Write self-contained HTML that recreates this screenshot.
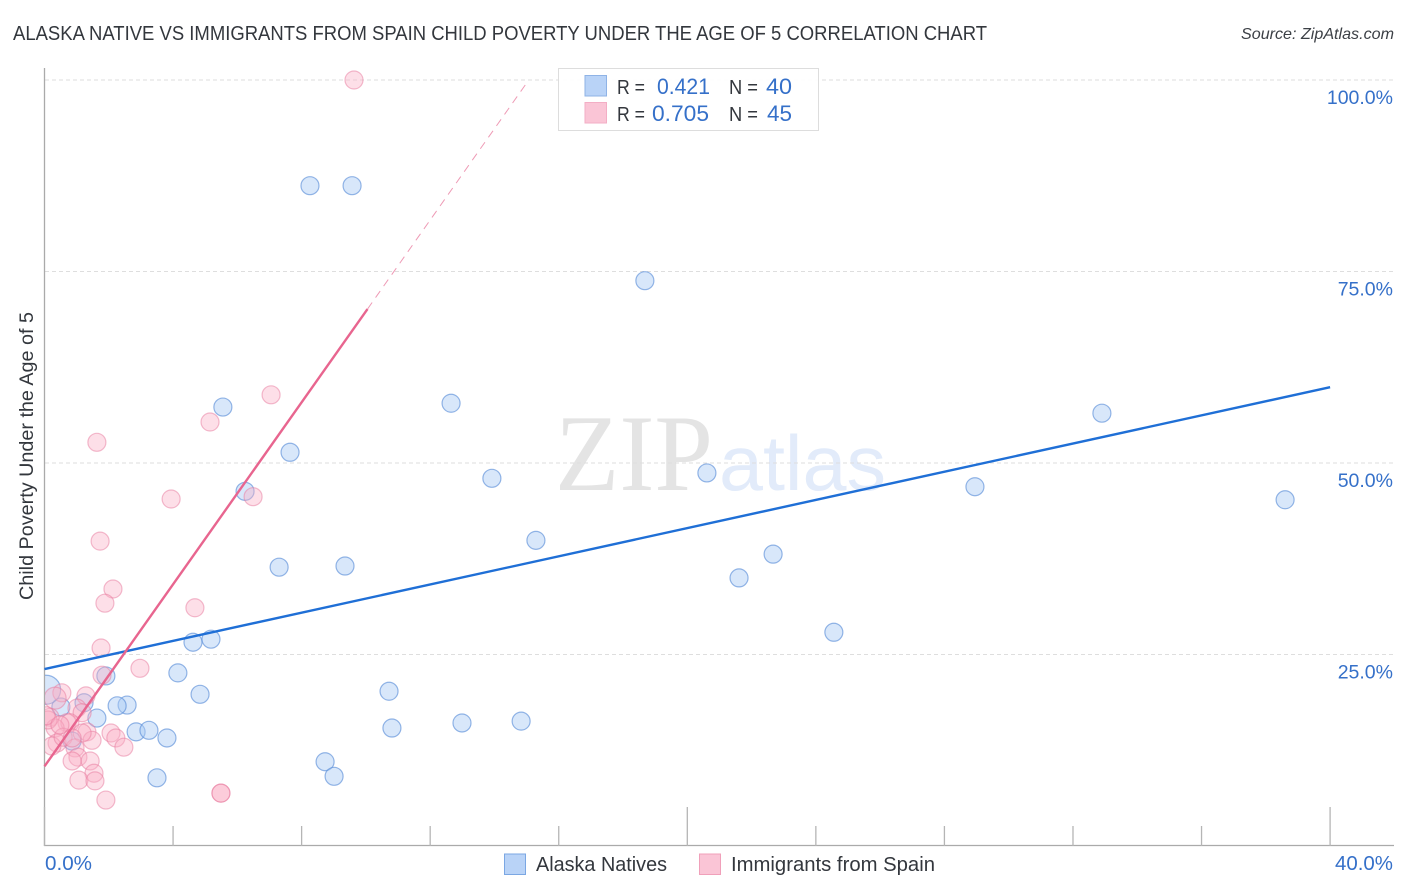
<!DOCTYPE html>
<html>
<head>
<meta charset="utf-8">
<style>
html,body{margin:0;padding:0;background:#fff;}
svg{display:block;font-family:"Liberation Sans",sans-serif;}
</style>
</head>
<body>
<svg id="chart" xmlns="http://www.w3.org/2000/svg" width="1406" height="892" viewBox="0 0 1406 892">
  <defs>
    <clipPath id="plot-clip"><rect x="45" y="60" width="1349" height="786"/></clipPath>
  </defs>
  <rect x="0" y="0" width="1406" height="892" fill="#ffffff"/>
  <text x="13" y="40" font-size="20" fill="#33373d" textLength="974" lengthAdjust="spacingAndGlyphs">ALASKA NATIVE VS IMMIGRANTS FROM SPAIN CHILD POVERTY UNDER THE AGE OF 5 CORRELATION CHART</text>
  <text x="1394" y="39" font-size="16" font-style="italic" fill="#3c4046" text-anchor="end" textLength="153" lengthAdjust="spacingAndGlyphs">Source: ZipAtlas.com</text>
  <g>
    <text x="555" y="490" font-family="'Liberation Serif',serif" font-size="109" fill="#e4e4e4" textLength="158" lengthAdjust="spacingAndGlyphs">ZIP</text>
    <text x="719" y="490" font-size="78" fill="#e2ebfa" textLength="167" lengthAdjust="spacingAndGlyphs">atlas</text>
  </g>
  <g id="grid"></g>
  <g id="axes"></g>
  <g id="points" clip-path="url(#plot-clip)"></g>
  <g id="trends"></g>
  <g id="ticklabels"></g>
  <text transform="translate(33,456) rotate(-90)" font-size="19" fill="#33373d" text-anchor="middle" textLength="288" lengthAdjust="spacingAndGlyphs">Child Poverty Under the Age of 5</text>

  <g>
    <rect x="558.5" y="68.5" width="260" height="62" fill="#ffffff" fill-opacity="0.9" stroke="#dddddd" stroke-width="1"/>
    <rect x="585" y="75.5" width="21.5" height="20.5" fill="#b9d3f7" stroke="#8fb3e6" stroke-width="1"/>
    <rect x="585" y="102.5" width="21.5" height="20.5" fill="#fac5d6" stroke="#f3aec5" stroke-width="1"/>
    <text x="617" y="94" font-size="20" fill="#33373d" textLength="28" lengthAdjust="spacingAndGlyphs">R =</text>
    <text x="657" y="94" font-size="22" fill="#3570c9" textLength="53" lengthAdjust="spacingAndGlyphs">0.421</text>
    <text x="729" y="94" font-size="20" fill="#33373d" textLength="29" lengthAdjust="spacingAndGlyphs">N =</text>
    <text x="766" y="94" font-size="22" fill="#3570c9" textLength="26" lengthAdjust="spacingAndGlyphs">40</text>
    <text x="617" y="121" font-size="20" fill="#33373d" textLength="28" lengthAdjust="spacingAndGlyphs">R =</text>
    <text x="652" y="121" font-size="22" fill="#3570c9" textLength="57" lengthAdjust="spacingAndGlyphs">0.705</text>
    <text x="729" y="121" font-size="20" fill="#33373d" textLength="29" lengthAdjust="spacingAndGlyphs">N =</text>
    <text x="767" y="121" font-size="22" fill="#3570c9" textLength="25" lengthAdjust="spacingAndGlyphs">45</text>
  </g>

  <g>
    <rect x="504.5" y="854" width="21" height="20.5" fill="#b9d3f7" stroke="#7ba7e3" stroke-width="1"/>
    <text x="536" y="871" font-size="20" fill="#33373d" textLength="131" lengthAdjust="spacingAndGlyphs">Alaska Natives</text>
    <rect x="699.5" y="854" width="21" height="20.5" fill="#fac5d6" stroke="#f0a0ba" stroke-width="1"/>
    <text x="731" y="871" font-size="20" fill="#33373d" textLength="204" lengthAdjust="spacingAndGlyphs">Immigrants from Spain</text>
  </g>
</svg>
<script>
var NS = 'http://www.w3.org/2000/svg';

var xTickValues = [0, 4, 8, 12, 16, 20, 24, 28, 32, 36, 40];
var xMajorTicks = [0, 20, 40];
var xEdgeLabels = [0, 40];
var yTickValues = [25, 50, 75, 100];

var alaskaX = [8.26, 9.57, 18.68, 5.55, 12.65, 7.64, 6.24, 13.92, 20.61, 32.9, 28.95, 38.6, 15.29, 22.67, 21.61, 7.3, 9.35, 24.56, 4.62, 5.18, 4.15, 1.91, 4.84, 10.72, 2.57, 2.26, 1.23, 0.51, 1.63, 2.85, 3.25, 3.81, 0.86, 10.81, 12.99, 14.83, 3.5, 8.73, 9.01, 0.05];
var alaskaY = [86.2, 86.2, 73.8, 57.3, 57.8, 51.4, 46.3, 48.0, 48.7, 56.5, 46.9, 45.2, 39.9, 38.1, 35.0, 36.4, 36.55, 27.9, 26.6, 27.0, 22.6, 22.2, 19.8, 20.2, 18.4, 18.3, 18.7, 18.15, 16.7, 14.9, 15.1, 14.1, 13.7, 15.4, 16.06, 16.3, 8.9, 11.0, 9.1, 20.4];
var alaskaWeight = [1, 1, 1, 1, 1, 1, 1, 1, 1, 1, 1, 1, 1, 1, 1, 1, 1, 1, 1, 1, 1, 1, 1, 1, 1, 1, 1, 1, 1, 1, 1, 1, 1, 1, 1, 1, 1, 1, 1, 3];

var spainX = [9.63, 7.05, 5.15, 1.63, 3.94, 6.49, 1.73, 4.68, 2.13, 1.88, 1.76, 2.97, 1.79, 0.54, 1.29, 0.33, 1.01, 0.17, 1.17, 0.7, 0.79, 0.33, 1.32, 2.07, 2.22, 2.47, 1.48, 1.17, 0.39, 0.23, 0.58, 0.95, 1.04, 0.86, 1.42, 1.54, 1.07, 1.57, 1.91, 5.49, 5.49, 0.11, 0.05, 0.48, 0.86];
var spainY = [100, 58.9, 55.35, 52.7, 45.3, 45.6, 39.8, 31.1, 33.55, 31.7, 25.85, 23.2, 22.3, 20.0, 19.6, 19.3, 18.0, 16.8, 17.4, 16.1, 16.1, 15.4, 14.9, 14.75, 14.1, 12.9, 13.8, 14.75, 13.45, 13.05, 14.2, 12.8, 11.6, 11.1, 11.1, 9.5, 8.6, 8.5, 6.0, 6.9, 6.9, 16.45, 17.0, 15.8, 14.1];
var spainWeight = [1, 1, 1, 1, 1, 1, 1, 1, 1, 1, 1, 1, 1, 1, 1, 2, 1, 1, 1, 1, 1, 1, 1, 1, 1, 1, 1, 1, 1, 1, 1, 1, 1, 1, 1, 1, 1, 1, 1, 1, 1, 1, 1, 1, 1];

var alaskaTrendX = [0, 40];
var alaskaTrendY = [23.1, 59.9];
var spainTrendX = [0, 10.05];
var spainTrendY = [10.4, 70.1];
var spainTrendDashX = [10.05, 15];
var spainTrendDashY = [70.1, 99.6];

function xScale(v) { return 44.5 + v * 32.14; }
function yScale(v) { return 846 - v * 7.66; }
function radius(w) { return w === 1 ? 9 : (w === 2 ? 11 : 14.5); }

function make(tag, parentId, attrs) {
  var el = document.createElementNS(NS, tag);
  Object.keys(attrs).forEach(function (k) { el.setAttribute(k, attrs[k]); });
  document.getElementById(parentId).appendChild(el);
  return el;
}

yTickValues.forEach(function (v) {
  var g = make('line', 'grid', { x1: 45, x2: 1394, y1: yScale(v), y2: yScale(v), stroke: '#dedede', 'stroke-width': 1, 'stroke-dasharray': '4 3' });
  
  

  var t = make('text', 'ticklabels', { x: 1393, y: yScale(v) + 24, 'font-size': 19.5, fill: '#3570c9', 'text-anchor': 'end' });
  t.textContent = v.toFixed(1) + '%';
  
  
});

var yAxisLine = make('line', 'axes', { x1: 44.5, x2: 44.5, y1: 68, y2: 846, stroke: '#aaaaaa', 'stroke-width': 1.3 });



var xAxisLine = make('line', 'axes', { x1: 44, x2: 1394, y1: 845.5, y2: 845.5, stroke: '#aaaaaa', 'stroke-width': 1.3 });



xTickValues.forEach(function (v) {
  var major = xMajorTicks.indexOf(v) >= 0;
  var tick = make('line', 'axes', { x1: xScale(v), x2: xScale(v), y1: major ? 807 : 826, y2: 846, stroke: '#b5b5b5', 'stroke-width': 1.3 });
  
  
});

xEdgeLabels.forEach(function (v, i) {
  var t = make('text', 'ticklabels', { x: i === 0 ? 45 : 1393, y: 870, 'font-size': 20, fill: '#3570c9', 'text-anchor': i === 0 ? 'start' : 'end', textLength: i === 0 ? 47 : 58, lengthAdjust: 'spacingAndGlyphs' });
  t.textContent = v.toFixed(1) + '%';
  
  
});

alaskaX.forEach(function (v, i) {
  var c = make('circle', 'points', { cx: xScale(v), cy: yScale(alaskaY[i]), r: radius(alaskaWeight[i]), fill: '#a9c9f5', 'fill-opacity': 0.45, stroke: '#5c8fd9', 'stroke-opacity': 0.65, 'stroke-width': 1.2 });
  
  
});

spainX.forEach(function (v, i) {
  var c = make('circle', 'points', { cx: xScale(v), cy: yScale(spainY[i]), r: radius(spainWeight[i]), fill: '#f9aec6', 'fill-opacity': 0.4, stroke: '#e8799d', 'stroke-opacity': 0.5, 'stroke-width': 1.2 });
  
  
});

var alaskaLine = make('line', 'trends', { x1: xScale(alaskaTrendX[0]), y1: yScale(alaskaTrendY[0]), x2: xScale(alaskaTrendX[1]), y2: yScale(alaskaTrendY[1]), stroke: '#1f6fd6', 'stroke-width': 2.4 });



var spainLine = make('line', 'trends', { x1: xScale(spainTrendX[0]), y1: yScale(spainTrendY[0]), x2: xScale(spainTrendX[1]), y2: yScale(spainTrendY[1]), stroke: '#e8658f', 'stroke-width': 2.4 });



var spainDash = make('line', 'trends', { x1: xScale(spainTrendDashX[0]), y1: yScale(spainTrendDashY[0]), x2: xScale(spainTrendDashX[1]), y2: yScale(spainTrendDashY[1]), stroke: '#ee9ab5', 'stroke-width': 1, 'stroke-dasharray': '8 6' });


</script>
</body>
</html>
